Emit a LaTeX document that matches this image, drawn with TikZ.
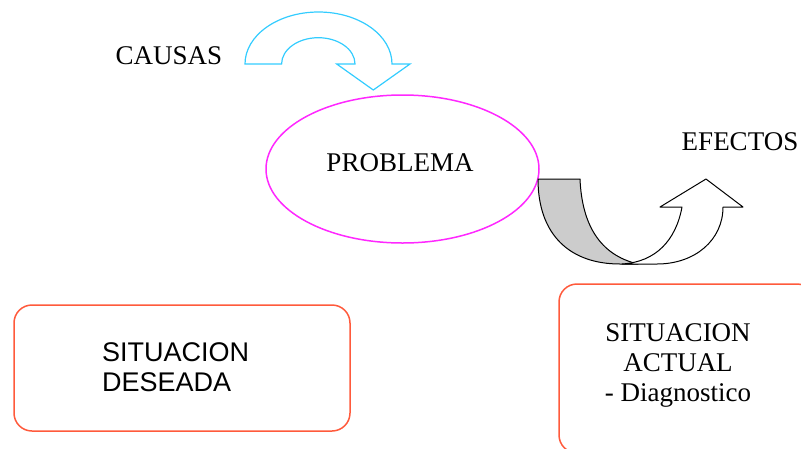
\documentclass[tikz,border=0pt]{standalone}
\usepackage{fontspec}
\setmainfont{Liberation Serif}
\newfontfamily\arialfont{Liberation Sans}
\usetikzlibrary{shapes.geometric}

\definecolor{cian}{RGB}{51,204,255}
\definecolor{rosa}{RGB}{255,40,255}
\definecolor{naranja}{RGB}{255,90,60}
\definecolor{grisflecha}{RGB}{204,204,204}

\tikzset{
  texto/.style={inner sep=0pt, font=\fontsize{27pt}{30pt}\selectfont},
  caja/.style={draw=naranja, line width=1.5pt, rounded corners=18pt, inner sep=0pt},
  flecha/.style={draw=black, line width=1pt, line join=round},
}

\begin{document}
\begin{tikzpicture}[x=1pt,y=-1pt]
    \useasboundingbox (0,0) rectangle (801,448);
    \clip (0,0) rectangle (801,448);

    % causas
    \node[texto] (causas) at (169,55.5) {CAUSAS};
    \draw[cian, line width=1.2pt, line join=miter] (245,64)
        arc[start angle=180, end angle=0, x radius=73.5pt, y radius=52pt]
        -- (410,64) -- (373.3,90) -- (336.7,64) -- (355,64)
        arc[start angle=0, end angle=180, x radius=36.7pt, y radius=26.3pt]
        -- cycle;

    % problema
    \node[draw=rosa, line width=1.5pt, ellipse, minimum width=273pt,
          minimum height=148pt, inner sep=0pt] (problema) at (402.5,169) {};
    \node[texto] (problematxt) at (400,162.5) {PROBLEMA};

    % efectos
    \node[texto] (efectos) at (740,142) {EFECTOS};
    \draw[flecha, fill=grisflecha] (538,179) -- (580,179)
        .. controls (582,225) and (600,255) .. (638,264) -- (620,264)
        .. controls (570,264) and (538,235) .. (538,179) -- cycle;
    \draw[flecha, fill=white] (660,207) -- (682,207)
        .. controls (676,240) and (656,262) .. (622,264) -- (657,264)
        .. controls (695,264) and (723,240) .. (723,207)
        -- (743,207) -- (706,179) -- cycle;

    % situaciones
    \node[caja, minimum width=336pt, minimum height=126pt] (deseada) at (182,368) {};
    \node[texto, font=\arialfont\fontsize{27pt}{30pt}\selectfont, align=left,
          anchor=north west] (deseadatxt) at (102,342) {SITUACION\\DESEADA};
    \node[caja, minimum width=256pt, minimum height=169pt] (actual) at (687,368.5) {};
    \node[texto, align=center, anchor=north] (actualtxt) at (678,323)
        {SITUACION\\ACTUAL\\- Diagnostico};
\end{tikzpicture}
\end{document}
